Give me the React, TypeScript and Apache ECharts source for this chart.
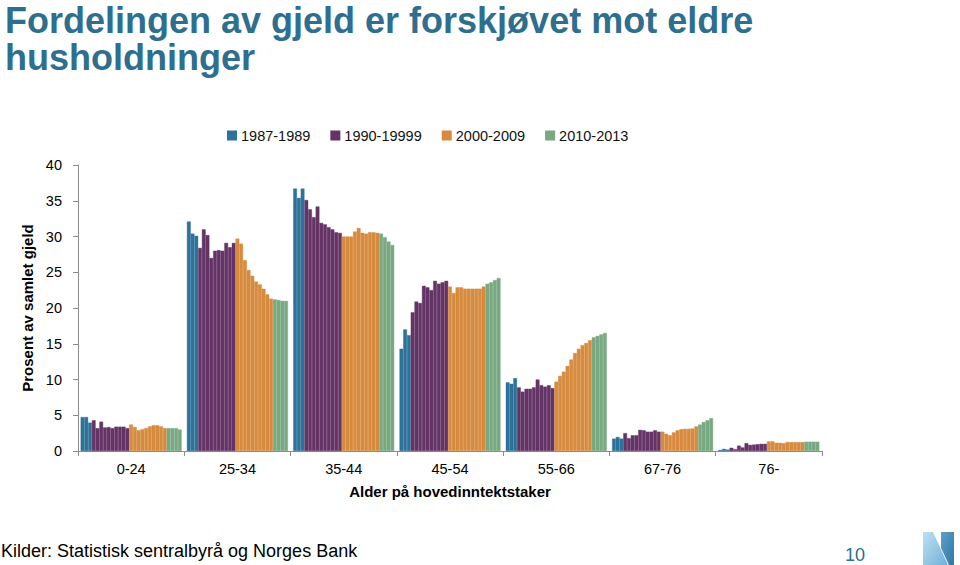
import React, { useEffect, useRef } from "react";
import * as echarts from "echarts";

const ageGroups = ["0-24", "25-34", "35-44", "45-54", "55-66", "67-76", "76-"];
const periods = ["1987-1989", "1990-19999", "2000-2009", "2010-2013"];
const years = [
  1987, 1988, 1989, 1990, 1991, 1992, 1993, 1994, 1995, 1996, 1997, 1998, 1999,
  2000, 2001, 2002, 2003, 2004, 2005, 2006, 2007, 2008, 2009, 2010, 2011, 2012, 2013,
];
const yTicks = [0, 5, 10, 15, 20, 25, 30, 35, 40];

// Share of total debt (%) per age group, one value per year 1987..2013
const age0_24 = [4.75, 4.75, 3.97, 4.3, 3.2, 4.1, 3.3, 3.35, 3.2, 3.4, 3.4, 3.4, 3.2, 3.7, 3.35, 2.9, 3.05, 3.2, 3.45, 3.6, 3.6, 3.45, 3.2, 3.2, 3.2, 3.2, 3.0];
const age25_34 = [32.1, 30.4, 30.1, 28.4, 31.0, 30.2, 27.0, 28.0, 28.1, 28.0, 29.1, 28.5, 29.1, 29.7, 29.0, 26.7, 25.3, 24.5, 23.7, 23.3, 22.7, 21.9, 21.3, 21.2, 21.1, 21.0, 21.0];
const age35_44 = [36.7, 35.4, 36.7, 35.1, 33.8, 32.7, 34.2, 31.9, 31.7, 31.3, 31.0, 30.6, 30.5, 30.0, 30.0, 30.0, 30.7, 31.2, 30.5, 30.4, 30.6, 30.6, 30.5, 30.4, 29.9, 29.3, 28.8];
const age45_54 = [14.3, 17.0, 16.2, 19.4, 20.9, 20.7, 23.1, 22.9, 22.5, 23.8, 23.4, 23.6, 23.8, 23.0, 22.1, 22.9, 22.9, 22.7, 22.7, 22.7, 22.7, 22.7, 23.0, 23.4, 23.6, 23.9, 24.2];
const age55_66 = [9.6, 9.4, 10.2, 8.9, 8.3, 8.7, 8.7, 8.9, 10.0, 9.2, 9.0, 9.2, 8.8, 9.7, 10.5, 11.1, 11.9, 12.8, 13.7, 14.3, 14.8, 15.1, 15.5, 15.9, 16.1, 16.3, 16.5];
const age67_76 = [1.73, 1.96, 1.73, 2.5, 1.8, 2.2, 2.2, 2.95, 2.9, 2.7, 2.7, 2.9, 2.7, 2.7, 2.4, 2.2, 2.6, 2.9, 3.05, 3.1, 3.1, 3.15, 3.45, 3.7, 4.05, 4.3, 4.6];
const age76plus = [0.15, 0.3, 0.2, 0.45, 0.25, 0.75, 0.5, 1.1, 0.85, 0.9, 0.95, 1.0, 1.0, 1.35, 1.35, 1.15, 1.15, 1.1, 1.25, 1.25, 1.25, 1.25, 1.25, 1.3, 1.3, 1.3, 1.3];

const groupValues = [age0_24, age25_34, age35_44, age45_54, age55_66, age67_76, age76plus];

const titleLines = ["Fordelingen av gjeld er forskjøvet mot eldre", "husholdninger"];

const periodColors = ["#2d7299", "#653466", "#d68b3f", "#79a982"];
const FONT = '"Liberation Sans", Arial, sans-serif';

function periodIndex(year: number): number {
  if (year < 1990) return 0;
  if (year < 2000) return 1;
  if (year < 2010) return 2;
  return 3;
}

export default function App() {
  const ref = useRef<HTMLDivElement>(null);

  useEffect(() => {
    if (!ref.current) return;
    const chart = echarts.init(ref.current, null, { renderer: "svg" });

    const series = years.map((yr, i) => {
      const p = periodIndex(yr);
      return {
        type: "bar",
        name: periods[p],
        data: groupValues.map((g) => g[i]),
        barGap: "0%",
        barCategoryGap: "5%",
        itemStyle: {
          color: periodColors[p],
          borderColor: periodColors[p],
          borderWidth: 0.4,
        },
      };
    });

    const option: any = {
      animation: false,
      textStyle: { fontFamily: FONT },
      grid: { left: 78, right: 138, top: 165, bottom: 114, containLabel: false },
      legend: {
        data: periods,
        left: 222,
        top: 123,
        itemWidth: 8,
        itemHeight: 8,
        itemGap: 20,
        icon: "rect",
        textStyle: { fontSize: 14.5, color: "#111", fontFamily: FONT },
      },
      xAxis: {
        type: "category",
        data: ageGroups,
        name: "Alder på hovedinntektstaker",
        nameLocation: "middle",
        nameGap: 33,
        nameTextStyle: { fontSize: 15, fontWeight: "bold", color: "#000", fontFamily: FONT },
        axisLine: { show: true, lineStyle: { color: "#8c8c8c", width: 1 } },
        axisTick: { show: true, length: 5, lineStyle: { color: "#8c8c8c" } },
        axisLabel: { fontSize: 14.5, color: "#000", margin: 10, fontFamily: FONT },
      },
      yAxis: {
        type: "value",
        min: yTicks[0],
        max: yTicks[yTicks.length - 1],
        interval: 5,
        name: "Prosent av samlet gjeld",
        nameLocation: "middle",
        nameGap: 35,
        nameTextStyle: { fontSize: 15, fontWeight: "bold", color: "#000", fontFamily: FONT },
        axisLine: { show: true, lineStyle: { color: "#8c8c8c", width: 1 } },
        axisTick: { show: true, length: 5, lineStyle: { color: "#8c8c8c" } },
        axisLabel: { fontSize: 14.5, color: "#000", margin: 16, fontFamily: FONT },
        splitLine: { show: false },
      },
      series,
      graphic: [
        ...titleLines.map((line, i) => ({
          type: "text",
          left: 5,
          top: 2 + i * 37,
          style: {
            text: line,
            fontSize: 36,
            fontWeight: "bold",
            fontFamily: FONT,
            fill: "#2e6e8e",
          },
        })),
        {
          type: "text",
          left: 1,
          top: 542,
          style: {
            text: "Kilder: Statistisk sentralbyrå og Norges Bank",
            fontSize: 18,
            fontFamily: FONT,
            fill: "#000",
          },
        },
        {
          type: "text",
          left: 845,
          top: 546,
          style: { text: "10", fontSize: 18, fontFamily: FONT, fill: "#2e6e8e" },
        },
        {
          type: "polygon",
          shape: { points: [[923, 532], [933, 532], [948, 565], [923, 565]] },
          style: {
            fill: new echarts.graphic.LinearGradient(0, 0, 1, 1, [
              { offset: 0, color: "#bfe0f2" },
              { offset: 1, color: "#6fb0d8" },
            ]),
          },
        },
        {
          type: "polygon",
          shape: { points: [[941, 532], [954, 532], [954, 565], [949, 565], [941, 548]] },
          style: {
            fill: new echarts.graphic.LinearGradient(0, 0, 1, 1, [
              { offset: 0, color: "#5d9fc8" },
              { offset: 1, color: "#2f78a8" },
            ]),
          },
        },
      ],
    };

    chart.setOption(option);
    return () => chart.dispose();
  }, []);

  return (
    <div
      ref={ref}
      style={{ position: "fixed", left: 0, top: 0, width: 960, height: 565, background: "#fff" }}
    />
  );
}
